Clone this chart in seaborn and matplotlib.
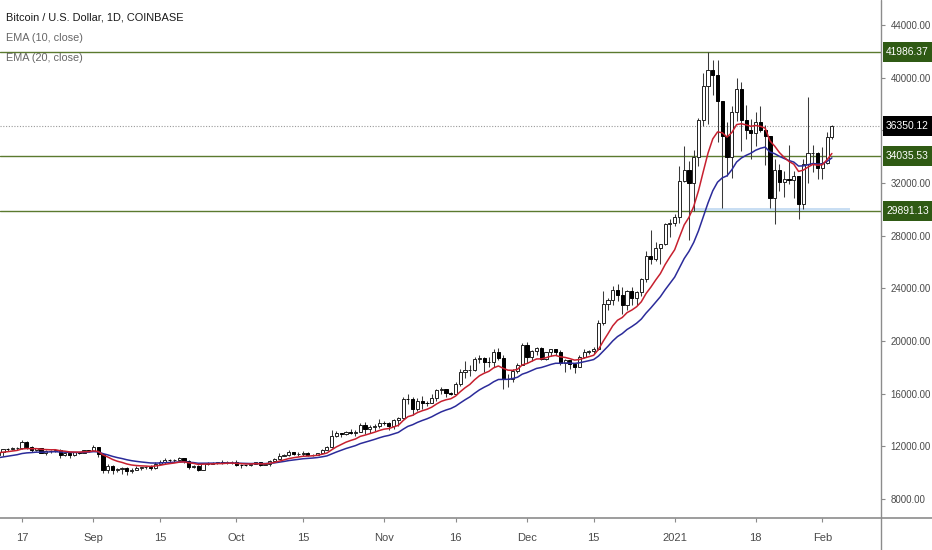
import numpy as np
import pandas as pd
import matplotlib
matplotlib.use("Agg")
import matplotlib.pyplot as plt
import matplotlib.dates as mdates
import matplotlib.transforms as mtransforms
from matplotlib.patches import Rectangle
from matplotlib.lines import Line2D
from matplotlib import font_manager
import seaborn as sns

# ---------------- data ----------------
start_date = "2020-08-12"
warmup_start = "2020-07-13"
warmup_close = [9240, 9250, 9200, 9130, 9160, 9170, 9210, 9160, 9390, 9530,
                9610, 9550, 9710, 9940, 11040, 10940, 11110, 11110, 11350, 11810,
                11070, 11230, 11190, 11750, 11770, 11600, 11770, 11690, 11880, 11400]

open_ = [
    # Aug
    11380, 11570, 11780, 11770, 11860, 11910, 12300, 11960, 11750, 11870, 11530, 11680, 11660, 11760, 11330, 11480, 11330, 11540, 11510, 11710,
    # Sep
    11650, 11930, 11400, 10170, 10480, 10170, 10260, 10370, 10130, 10230, 10360, 10400, 10450, 10330, 10680, 10790, 10960, 10940, 10940, 11090,
    10920, 10420, 10540, 10240, 10740, 10690, 10730, 10780, 10700, 10840,
    # Oct
    10780, 10620, 10570, 10550, 10670, 10790, 10600, 10670, 10920, 11060, 11300, 11380, 11540, 11430, 11430, 11500, 11320, 11370, 11510, 11750,
    11920, 12820, 12980, 12930, 13120, 13040, 13070, 13650, 13280, 13460, 13560,
    # Nov
    13800, 13760, 13560, 14030, 14140, 15590, 15580, 14840, 15480, 15330, 15310, 15700, 16290, 16330, 16080, 15960, 16720, 17660, 17800, 17820,
    18660, 18700, 18420, 18370, 19160, 18730, 17150, 17140, 17720, 18180,
    # Dec
    19700, 18770, 19220, 19440, 18650, 19150, 19360, 19170, 18320, 18550, 18250, 18040, 18800, 19170, 19270, 19430, 21340, 22800, 23130, 23840,
    23480, 22740, 23810, 23230, 23730, 24690, 26440, 26250, 27030, 27360, 28880,
    # Jan
    28990, 29400, 32190, 33000, 31990, 33950, 36770, 39380, 40610, 40230, 38240, 35540, 34010, 37390, 39150, 36800, 36020, 35820, 36640, 36020,
    35550, 30850, 33000, 32100, 32300, 32260, 32500, 30400, 33430, 34260, 34300,
    # Feb
    33110, 33530, 35520,
]
high = [
    11620, 11800, 11860, 11970, 11950, 12470, 12400, 12030, 11890, 11880, 11690, 11710, 11820, 11770, 11540, 11590, 11550, 11600, 11710, 11760,
    12090, 11950, 11460, 10640, 10580, 10350, 10400, 10440, 10350, 10500, 10400, 10480, 10570, 10800, 10940, 11100, 11040, 11050, 11180, 11100,
    10990, 10580, 10550, 10770, 10780, 10800, 10800, 10950, 10860, 10850,
    10940, 10660, 10600, 10690, 10800, 10800, 10690, 10950, 11100, 11490, 11430, 11720, 11560, 11550, 11630, 11550, 11400, 11530, 11820, 12020,
    13220, 13190, 13030, 13170, 13350, 13250, 13790, 13860, 13640, 13680, 14100,
    13900, 13820, 14070, 14260, 15770, 15970, 15770, 15650, 15840, 15460, 15960, 16340, 16490, 16330, 16150, 16880, 17860, 18480, 18150, 18820,
    18960, 18760, 18760, 19420, 19490, 18900, 17460, 17880, 18320, 19860,
    19920, 19340, 19580, 19520, 19190, 19420, 19420, 19290, 18640, 18560, 18280, 18950, 19410, 19350, 19570, 21560, 23770, 23280, 24170, 24300,
    24100, 23850, 24100, 23780, 24780, 26870, 28420, 27500, 27380, 28990, 29300,
    29680, 33300, 34790, 33650, 34500, 36940, 40370, 41986.37, 41380, 41350, 38260, 36600, 37840, 40000, 39700, 37950, 36850, 37400, 37850, 36420,
    35600, 33860, 33480, 32940, 34880, 32940, 32560, 33790, 38530, 34900, 34330,
    34720, 35900, 36400,
]
low = [
    11150, 11280, 11630, 11700, 11690, 11780, 11830, 11570, 11670, 11500, 11380, 11520, 11600, 11140, 11280, 11150, 11300, 11430, 11470, 11550,
    11620, 11190, 10010, 9990, 9890, 10020, 9880, 9850, 10000, 10200, 10200, 10270, 10210, 10280, 10630, 10670, 10760, 10820, 10890, 10770,
    10310, 10360, 10150, 10200, 10560, 10650, 10630, 10650, 10640, 10670,
    10520, 10370, 10500, 10530, 10630, 10530, 10570, 10540, 10830, 11050, 11280, 11230, 11310, 11280, 11280, 11230, 11300, 11370, 11420, 11690,
    11900, 12700, 12730, 12880, 12900, 12780, 13060, 12930, 12990, 13130, 13430,
    13630, 13210, 13300, 13530, 14090, 15200, 14350, 14720, 14800, 15080, 15280, 15440, 15950, 15760, 15870, 15880, 16560, 17220, 17360, 17760,
    18340, 17660, 18050, 18020, 18590, 16330, 16520, 16880, 17540, 18180,
    18330, 18510, 18940, 18580, 18540, 18870, 18920, 18200, 17620, 17910, 17570, 18020, 18710, 19000, 19050, 19290, 21230, 22350, 22770, 23070,
    22030, 22380, 22700, 22700, 23440, 24500, 25850, 26100, 25880, 27320, 27880,
    28700, 28950, 32050, 27680, 29880, 33300, 36310, 36500, 38720, 35110, 30100, 32530, 32380, 36700, 34400, 35360, 33850, 34800, 35900, 33400,
    30070, 28850, 31400, 30900, 31900, 30840, 29240, 30000, 31990, 32860, 32300,
    32300, 33420, 35370,
]
close = [
    11570, 11780, 11770, 11860, 11910, 12300, 11960, 11750, 11870, 11530, 11680, 11660, 11760, 11330, 11480, 11330, 11540, 11510, 11710, 11650,
    11930, 11400, 10170, 10480, 10170, 10260, 10370, 10130, 10230, 10360, 10400, 10450, 10330, 10680, 10790, 10960, 10940, 10940, 11090, 10920,
    10420, 10540, 10240, 10740, 10690, 10730, 10780, 10700, 10840, 10780,
    10620, 10570, 10550, 10670, 10790, 10600, 10670, 10920, 11060, 11300, 11380, 11540, 11430, 11430, 11500, 11320, 11370, 11510, 11750, 11920,
    12820, 12980, 12930, 13120, 13040, 13070, 13650, 13280, 13460, 13560, 13800,
    13760, 13560, 14030, 14140, 15590, 15580, 14840, 15480, 15330, 15310, 15700, 16290, 16330, 16080, 15960, 16720, 17660, 17800, 17820, 18660,
    18700, 18420, 18370, 19160, 18730, 17150, 17140, 17720, 18180, 19700,
    18770, 19220, 19440, 18650, 19150, 19360, 19170, 18320, 18550, 18250, 18040, 18800, 19170, 19270, 19430, 21340, 22800, 23130, 23840, 23480,
    22740, 23810, 23230, 23730, 24690, 26440, 26250, 27030, 27360, 28880, 28990,
    29400, 32190, 33000, 31990, 33950, 36770, 39380, 40610, 40230, 38240, 35540, 34010, 37390, 39150, 36800, 36020, 35820, 36640, 36020, 35550,
    30850, 33000, 32100, 32300, 32260, 32500, 30400, 33430, 34260, 34300, 33110,
    33530, 35520, 36350.12,
]

level_lines = [41986.37, 34035.53, 29891.13]
last_price = 36350.12
support_zone = (29891.13, 30080.0)
support_zone_dates = ("2021-01-04 19:00", "2021-02-06 19:00")

y_ticks = [8000, 12000, 16000, 20000, 24000, 28000, 32000, 36000, 40000, 44000]
x_tick_dates = ["2020-08-17", "2020-09-01", "2020-09-15", "2020-10-01", "2020-10-15", "2020-11-01",
                "2020-11-16", "2020-12-01", "2020-12-15", "2021-01-01", "2021-01-18", "2021-02-01"]
x_tick_labels = ["17", "Sep", "15", "Oct", "15", "Nov", "16", "Dec", "15", "2021", "18", "Feb"]

title_text = "Bitcoin / U.S. Dollar, 1D, COINBASE"
ema_labels = ["EMA (10, close)", "EMA (20, close)"]

# ---------------- frame ----------------
dates = pd.date_range(start_date, periods=len(close), freq="D")
df = pd.DataFrame({"date": dates, "open": open_, "high": high, "low": low, "close": close})
full_close = pd.Series(list(warmup_close) + list(close))
df["ema10"] = full_close.ewm(span=10, adjust=False).mean().values[len(warmup_close):]
df["ema20"] = full_close.ewm(span=20, adjust=False).mean().values[len(warmup_close):]
df["x"] = mdates.date2num(df["date"])

# ---------------- style ----------------
sns.set_style("white")
avail = {f.name for f in font_manager.fontManager.ttflist}
fam = [f for f in ["Liberation Sans Narrow", "Liberation Sans", "DejaVu Sans"] if f in avail]
plt.rcParams["font.family"] = fam

W, H = 932, 550
fig = plt.figure(figsize=(W / 100, H / 100), dpi=100)
ax_w, ax_h = 881, 518
ax = fig.add_axes([0, 1 - ax_h / H, ax_w / W, ax_h / H])
ax.set_facecolor("white")

ax.set_ylim(6558, 45900)
x_aug17 = mdates.date2num(pd.Timestamp("2020-08-17"))
px_per_day = 4.764
ax.set_xlim(x_aug17 - 22 / px_per_day, x_aug17 + (ax_w - 22) / px_per_day)

# horizontal level lines
line_green = "#5b7a2f"
for lv in level_lines:
    ax.axhline(lv, color=line_green, lw=1.0, zorder=1)
ax.axhline(last_price, color="#9a9a9a", lw=0.8, ls=(0, (1, 1.5)), zorder=1)

# support zone rectangle
zx0 = mdates.date2num(pd.Timestamp(support_zone_dates[0]))
zx1 = mdates.date2num(pd.Timestamp(support_zone_dates[1]))
ax.add_patch(Rectangle((zx0, support_zone[0]), zx1 - zx0, support_zone[1] - support_zone[0],
                       facecolor="#c9def3", edgecolor="none", zorder=1.5))

# candles
up = df["close"] >= df["open"]
ax.vlines(df["x"], df["low"], df["high"], color="#3a3a3a", lw=0.75, zorder=2)
body_lo = np.minimum(df["open"], df["close"])
body_h = np.abs(df["close"] - df["open"])
ax.bar(df["x"][up], body_h[up], bottom=body_lo[up], width=0.66, facecolor="white",
       edgecolor="#222222", linewidth=0.7, zorder=3)
ax.bar(df["x"][~up], body_h[~up], bottom=body_lo[~up], width=0.66, facecolor="black",
       edgecolor="black", linewidth=0.7, zorder=3)

# EMA lines
sns.lineplot(data=df, x="x", y="ema20", color="#2b2b9a", lw=1.1, ax=ax, zorder=4)
sns.lineplot(data=df, x="x", y="ema10", color="#c7202f", lw=1.1, ax=ax, zorder=4)
ax.set_xlabel("")
ax.set_ylabel("")

# ticks
ax.yaxis.tick_right()
ax.set_yticks(y_ticks)
ax.set_yticklabels(["" if v == 36000 else f"{v:.2f}" for v in y_ticks])
ax.set_xticks([mdates.date2num(pd.Timestamp(d)) for d in x_tick_dates])
ax.set_xticklabels(x_tick_labels)
ax.tick_params(axis="y", which="both", length=3, width=0.8, color="#8a8a8a", labelcolor="#4a4a4a",
               labelsize=7.0, pad=4, right=True, left=False)
ax.tick_params(axis="x", which="both", length=3, width=0.8, color="#8a8a8a", labelcolor="#4a4a4a",
               labelsize=8.0, pad=8, bottom=True)
for s in ax.spines.values():
    s.set_visible(False)
ax.grid(False)

# frame lines that run past the plot area
yb = 1 - ax_h / H
xr = ax_w / W
fig.add_artist(Line2D([0, 1], [yb, yb], transform=fig.transFigure, color="#8c8c8c", lw=1.2, zorder=5))
fig.add_artist(Line2D([xr, xr], [0, 1], transform=fig.transFigure, color="#8c8c8c", lw=1.0, zorder=5))

# price label boxes on the price scale
blend = mtransforms.blended_transform_factory(fig.transFigure, ax.transData)
box_h = 20 / 0.013167
box_x0 = 883 / W
for val, fc in [(level_lines[0], "#2f5a14"), (last_price, "#000000"),
                (level_lines[1], "#2f5a14"), (level_lines[2], "#2f5a14")]:
    fig.add_artist(Rectangle((box_x0, val - box_h / 2), 1 - box_x0, box_h, transform=blend,
                             facecolor=fc, edgecolor="none", zorder=6, clip_on=False))
    fig.text((883 + 932) / 2 / W, val, f"{val:.2f}", transform=blend, ha="center", va="center",
             color="white", fontsize=7.4, zorder=7)

# legend text (top-left)
fig.text(6 / W, 1 - 17 / H, title_text, ha="left", va="center", fontsize=7.9, color="#1a1a1a")
fig.text(6 / W, 1 - 38 / H, ema_labels[0], ha="left", va="center", fontsize=7.8, color="#666666")
fig.text(6 / W, 1 - 58 / H, ema_labels[1], ha="left", va="center", fontsize=7.8, color="#666666")

fig.savefig("out.png", dpi=100, facecolor="white")
